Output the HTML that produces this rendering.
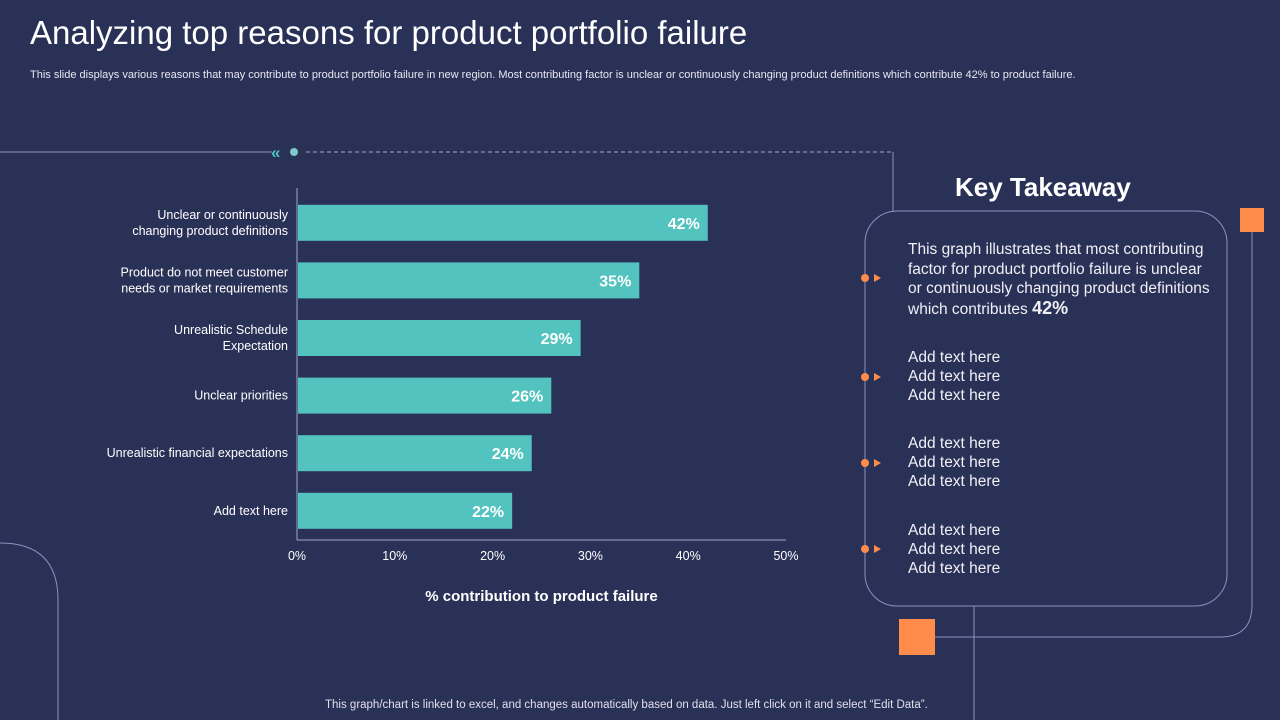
<!DOCTYPE html>
<html><head><meta charset="utf-8"><style>
body{margin:0;width:1280px;height:720px;background:#2a3157;overflow:hidden;font-family:"Liberation Sans",sans-serif;position:relative;color:#fff}
.a{position:absolute}
</style></head><body>
<div class="a" style="left:30px;top:14px;font-size:33px;color:#fff">Analyzing top reasons for product portfolio failure</div>
<div class="a" style="left:30px;top:69px;font-size:11px;color:#e8e8f0">This slide displays various reasons that may contribute to product portfolio failure in new region. Most contributing factor is unclear or continuously changing product definitions which contribute 42% to product failure.</div>
<svg class="a" style="left:0;top:0" width="1280" height="720">
<line x1="0" y1="152" x2="272" y2="152" stroke="#8a93c0" stroke-width="1"/>
<text x="271" y="158" fill="#4fc3bf" font-size="17" font-weight="bold" font-family="Liberation Sans">«</text>
<circle cx="294" cy="152" r="4" fill="#7fc9c8"/>
<line x1="306" y1="152" x2="893" y2="152" stroke="#a0a8cc" stroke-dasharray="4,3"/>
<line x1="893" y1="152" x2="893" y2="212" stroke="#8a93c0"/>
<rect x="865" y="211" width="362" height="395" rx="32" fill="none" stroke="#8a93c0"/>
<rect x="1240" y="208" width="24" height="24" fill="#ff8c4a"/>
<path d="M1252 232 V605 Q1252 637 1220 637 H935" fill="none" stroke="#8a93c0"/>
<rect x="899" y="619" width="36" height="36" fill="#ff8c4a"/>
<line x1="974" y1="606" x2="974" y2="720" stroke="#8a93c0"/>
<path d="M0 543 Q58 543 58 600 V720" fill="none" stroke="#8a93c0"/>
<g fill="#ff8c4a">
<circle cx="865" cy="278" r="4"/><path d="M874 274 L881 278 L874 282Z"/>
<circle cx="865" cy="377" r="4"/><path d="M874 373 L881 377 L874 381Z"/>
<circle cx="865" cy="463" r="4"/><path d="M874 459 L881 463 L874 467Z"/>
<circle cx="865" cy="549" r="4"/><path d="M874 545 L881 549 L874 553Z"/>
</g>
</svg>
<div class="a" style="left:955px;top:172px;font-size:26px;font-weight:bold">Key Takeaway</div>
<div class="a" style="left:908px;top:240px;font-size:15.5px;line-height:19.5px;color:#f0f0f5;width:310px">This graph illustrates that most contributing factor for product portfolio failure is unclear or continuously changing product definitions which contributes <b style="font-size:18px">42%</b></div>
<div class="a" style="left:908px;top:348px;font-size:15.5px;line-height:19px;color:#f0f0f5">Add text here<br>Add text here<br>Add text here</div>
<div class="a" style="left:908px;top:434px;font-size:15.5px;line-height:19px;color:#f0f0f5">Add text here<br>Add text here<br>Add text here</div>
<div class="a" style="left:908px;top:521px;font-size:15.5px;line-height:19px;color:#f0f0f5">Add text here<br>Add text here<br>Add text here</div>
<div class="a" style="left:325px;top:699px;font-size:11.5px;color:#e0e0ea">This graph/chart is linked to excel, and changes automatically based on data. Just left click on it and select “Edit Data”.</div>
<svg id="chart" class="a" style="left:0;top:0" width="1280" height="720"></svg>
<script>
const categories=[["Unclear or continuously","changing product definitions"],["Product do not meet customer","needs or market requirements"],["Unrealistic Schedule","Expectation"],["Unclear priorities"],["Unrealistic financial expectations"],["Add text here"]];
const values=[42,35,29,26,24,22];
const ticks=[0,10,20,30,40,50];
const ns="http://www.w3.org/2000/svg";
const svg=document.getElementById('chart');
const x0=297,x1=786,xmax=50;
const xs=v=>x0+(v/xmax)*(x1-x0);
const yTop=194,band=57.6,barH=36;
const yc=i=>yTop+band*i+band/2;
function el(t,a){const e=document.createElementNS(ns,t);for(const k in a)e.setAttribute(k,a[k]);svg.appendChild(e);return e;}
const ax=el('line',{x1:x0,y1:188,x2:x0,y2:540,stroke:'#a0a8cc'});


const bx=el('line',{x1:x0,y1:540,x2:x1,y2:540,stroke:'#a0a8cc'});


values.forEach((v,i)=>{
 const r=el('rect',{x:x0+1,y:yc(i)-barH/2,width:xs(v)-x0-1,height:barH,fill:'#52c3bf'});
 
 
 const t=el('text',{x:xs(v)-8,y:yc(i)+6,'text-anchor':'end',fill:'#fff','font-size':16,'font-weight':'bold','font-family':'Liberation Sans'});
 t.textContent=v+'%';
 
 
 const lines=categories[i];
 lines.forEach((s,j)=>{
  const c=el('text',{x:288,y:yc(i)+4+(j-(lines.length-1)/2)*16,'text-anchor':'end',fill:'#fff','font-size':12.5,'font-family':'Liberation Sans'});
  c.textContent=s;
  
  
 });
});
ticks.forEach(t=>{
 const e=el('text',{x:xs(t),y:560,'text-anchor':'middle',fill:'#fff','font-size':12.5,'font-family':'Liberation Sans'});
 e.textContent=t+'%';
 
 
});
const xt=el('text',{x:(x0+x1)/2,y:601,'text-anchor':'middle',fill:'#fff','font-size':15,'font-weight':'bold','font-family':'Liberation Sans'});
xt.textContent='% contribution to product failure';


</script>
</body></html>
